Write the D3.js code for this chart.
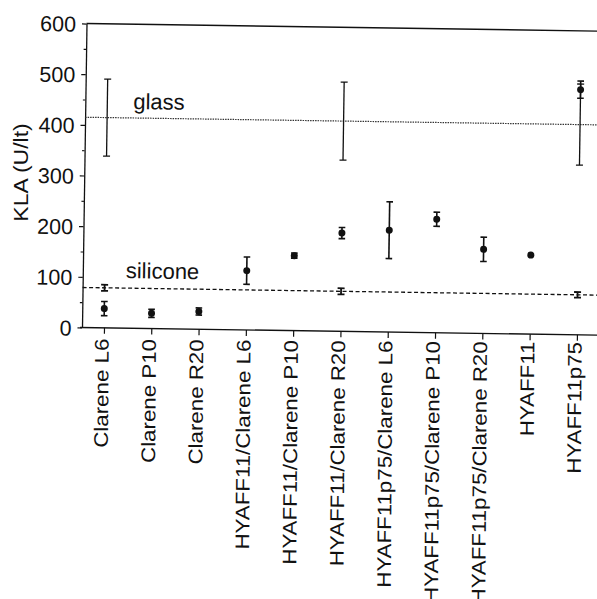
<!DOCTYPE html>
<html>
<head>
<meta charset="utf-8">
<script src="https://cdn.jsdelivr.net/npm/d3@7"></script>
<style>
  html, body { margin: 0; padding: 0; background: #fff; }
  svg { display: block; }
</style>
</head>
<body>
<script>
// ---------- data ----------
const categories = [
  "Clarene L6", "Clarene P10", "Clarene R20",
  "HYAFF11/Clarene L6", "HYAFF11/Clarene P10", "HYAFF11/Clarene R20",
  "HYAFF11p75/Clarene L6", "HYAFF11p75/Clarene P10", "HYAFF11p75/Clarene R20",
  "HYAFF11", "HYAFF11p75"
];
const means  = [38, 30, 35, 117, 148, 194, 201, 224, 166, 156, 484];
const errors = [14, 8, 7, 27, 5, 11, 56, 14, 24, 0, 17];

const glassMean = 415;
const siliconeMean = 79;
const refCategories = ["Clarene L6", "HYAFF11/Clarene R20", "HYAFF11p75"];
const glassErrors    = [76, 77, 80];
const siliconeErrors = [6, 6, 5.5];

const yTicks = [0, 100, 200, 300, 400, 500, 600];
const yMinorTicks = [50, 150, 250, 350, 450, 550];
const yLabel = "KLA (U/lt)";

// ---------- layout ----------
const W = 597, H = 599;
const FONT = "'Liberation Sans', Arial, Helvetica, sans-serif";
const INK = "#111";

const svg = d3.select("body").append("svg")
  .attr("width", W).attr("height", H)
  .attr("font-family", FONT);
svg.append("rect").attr("width", W).attr("height", H).attr("fill", "#fff");

const x = d3.scalePoint().domain(categories).range([104, 577]);
const y = d3.scaleLinear().domain([0, 600]).range([327.5, 23.5]);

// slightly tilted (scanned) plot area
const g = svg.append("g").attr("transform", "rotate(0.85,82,327.5)");

// y axis
const yAxis = g.append("g").attr("transform", "translate(82,0)")
  .call(d3.axisLeft(y).tickValues(yTicks).tickSize(4.5).tickSizeOuter(0)
        .tickPadding(6).tickFormat(d3.format("d")));
yAxis.select(".domain").attr("stroke", INK).attr("stroke-width", 1.3);
yAxis.selectAll(".tick line").attr("stroke", INK).attr("stroke-width", 1.2);
yAxis.selectAll(".tick text").attr("font-size", 21.5).attr("font-family", FONT)
  .attr("fill", INK).attr("dy", "0.36em");

const yMinor = g.append("g").attr("transform", "translate(82,0)")
  .call(d3.axisLeft(y).tickValues(yMinorTicks).tickSize(2.5).tickFormat(""));
yMinor.select(".domain").remove();
yMinor.selectAll(".tick line").attr("stroke", INK).attr("stroke-width", 1.1);

// bottom axis ticks
const xAxis = g.append("g").attr("transform", `translate(0,${y(0)})`)
  .call(d3.axisBottom(x).tickSize(6).tickFormat(""));
xAxis.select(".domain").remove();
xAxis.selectAll(".tick line").attr("stroke", INK).attr("stroke-width", 1.2);

// bottom axis line and top frame line
g.append("line").attr("x1", 80).attr("x2", 640).attr("y1", y(0)).attr("y2", y(0))
  .attr("stroke", INK).attr("stroke-width", 1.4);
g.append("line").attr("x1", 82).attr("x2", 640).attr("y1", y(600)).attr("y2", y(600))
  .attr("stroke", INK).attr("stroke-width", 1.4);

// reference lines
g.append("line").attr("x1", 82).attr("x2", 640)
  .attr("y1", y(glassMean)).attr("y2", y(glassMean))
  .attr("stroke", "#333").attr("stroke-width", 1.2).attr("stroke-dasharray", "1.5,1");
g.append("line").attr("x1", 82).attr("x2", 640)
  .attr("y1", y(siliconeMean)).attr("y2", y(siliconeMean))
  .attr("stroke", INK).attr("stroke-width", 1.3).attr("stroke-dasharray", "4,2.5");

g.append("text").attr("x", 130).attr("y", y(glassMean) - 9)
  .attr("font-size", 22).attr("fill", INK).text("glass");
g.append("text").attr("x", 125).attr("y", y(siliconeMean) - 10)
  .attr("font-size", 22).attr("fill", INK).text("silicone");

// error bar helper
function errorBar(sel, cx, lo, hi, cap, sw) {
  sel.append("line").attr("x1", cx).attr("x2", cx).attr("y1", y(lo)).attr("y2", y(hi))
    .attr("stroke", INK).attr("stroke-width", sw);
  [lo, hi].forEach(v => {
    sel.append("line").attr("x1", cx - cap).attr("x2", cx + cap)
      .attr("y1", y(v)).attr("y2", y(v))
      .attr("stroke", INK).attr("stroke-width", sw);
  });
}

// glass & silicone error bars
const refG = g.append("g");
refCategories.forEach((c, i) => {
  errorBar(refG, x(c), glassMean - glassErrors[i], glassMean + glassErrors[i], 3.5, 1.3);
  errorBar(refG, x(c), siliconeMean - siliconeErrors[i], siliconeMean + siliconeErrors[i], 3.5, 1.8);
});

// data points
const ptsG = g.append("g");
categories.forEach((c, i) => {
  if (errors[i] > 0) errorBar(ptsG, x(c), means[i] - errors[i], means[i] + errors[i], 3.3, 1.6);
});
ptsG.selectAll("circle").data(categories).join("circle")
  .attr("cx", d => x(d))
  .attr("cy", (d, i) => y(means[i]))
  .attr("r", 3.5)
  .attr("fill", INK);

// category labels
const labG = svg.append("g").attr("transform", "rotate(0.4,82,327.5)");
labG.selectAll("text").data(categories).join("text")
  .attr("transform", d => `translate(${x(d) + 4.7},338.5) rotate(-90) scale(1,0.88)`)
  .attr("text-anchor", "end")
  .attr("font-size", 22.3)
  .attr("fill", INK)
  .text(d => d);

// y axis title
svg.append("text")
  .attr("transform", "translate(27.7,172.5) rotate(-90) scale(1,0.88)")
  .attr("text-anchor", "middle")
  .attr("font-size", 23)
  .attr("fill", INK)
  .text(yLabel);
</script>
</body>
</html>
